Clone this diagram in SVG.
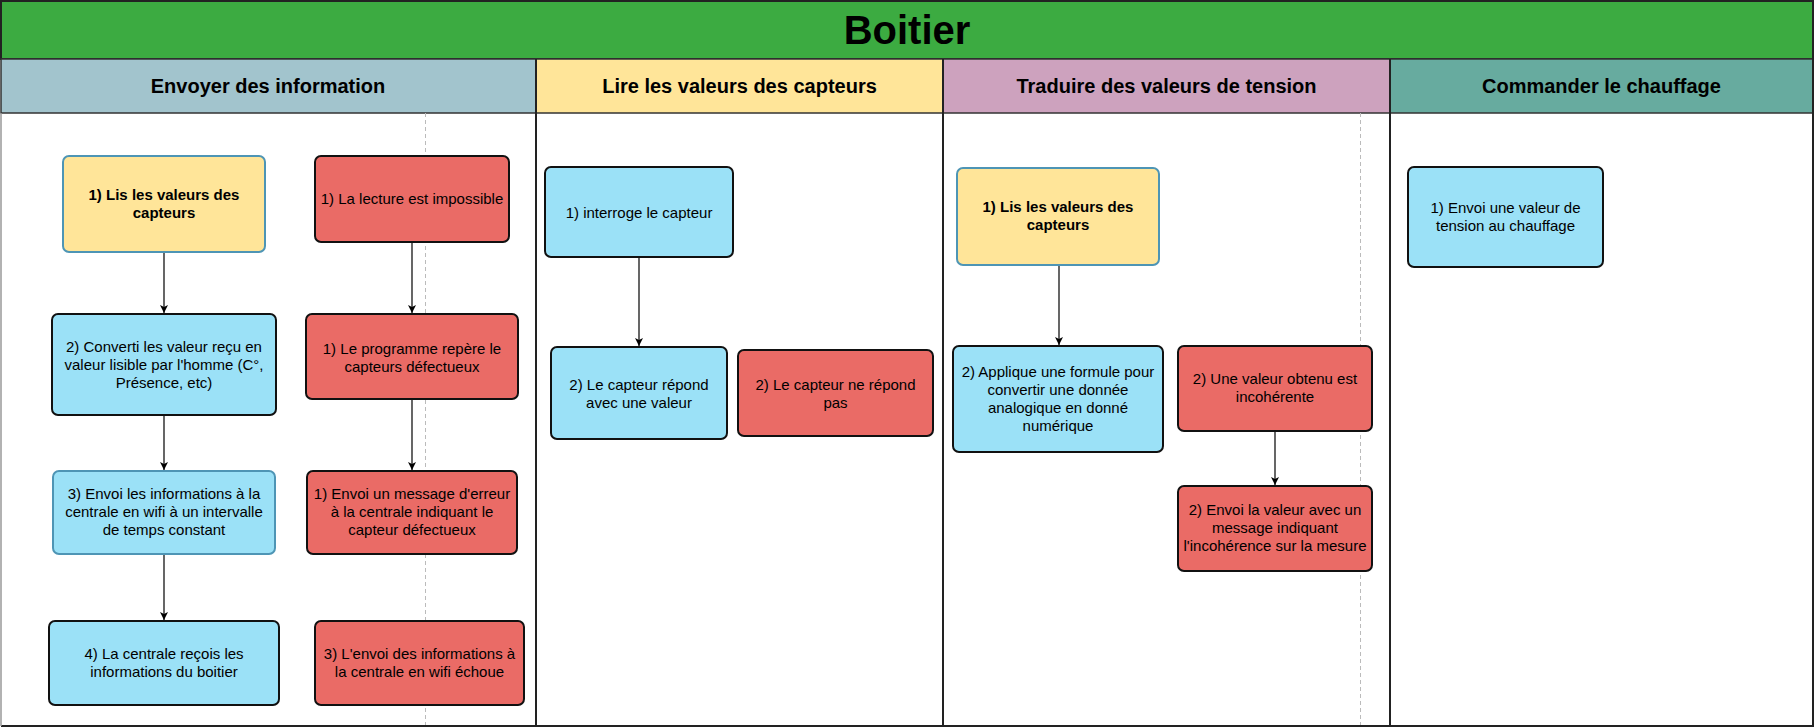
<svg xmlns="http://www.w3.org/2000/svg" width="1815" height="728" viewBox="0 0 1815 728">
<defs>
<marker id="arr" markerWidth="10" markerHeight="10" refX="8" refY="4" orient="auto" markerUnits="userSpaceOnUse">
<path d="M0,0 L8,4 L0,8 L2,4 Z" fill="#000"/>
</marker>
<style>
.lane-h{font-family:"Liberation Sans",Arial,sans-serif;font-size:20px;font-weight:bold;fill:#000;text-anchor:middle}
.t{font-family:"Liberation Sans",Arial,sans-serif;font-size:15px;fill:#000;text-anchor:middle}
.tb{font-family:"Liberation Sans",Arial,sans-serif;font-size:15px;font-weight:bold;fill:#000;text-anchor:middle}
.blue{fill:#9BE1F7;stroke:#111;stroke-width:2}
.blue2{fill:#9BE1F7;stroke:#4E95B5;stroke-width:2}
.red{fill:#EA6B66;stroke:#111;stroke-width:2}
.yel{fill:#FFE599;stroke:#4E95B5;stroke-width:2}
.conn{stroke:#000;stroke-width:1.2;fill:none;marker-end:url(#arr)}
.dash{stroke:#BBB;stroke-width:1;stroke-dasharray:4 3;fill:none}
</style>
</defs>
<g id="pool">
<rect x="0" y="0" width="1815" height="728" fill="#fff"/>
<rect x="1" y="1" width="1812" height="58" fill="#3CAB41" stroke="#222" stroke-width="2"/>
<text x="907" y="44" font-family="Liberation Sans, Arial, sans-serif" font-size="40" font-weight="bold" text-anchor="middle" fill="#000">Boitier</text>
</g>
<g id="lane1">
<rect x="1" y="59" width="535" height="54" fill="#A2C4CD" stroke="#333" stroke-width="1.5"/>
<text class="lane-h" x="268" y="93">Envoyer des information</text>
</g>
<g id="lane2">
<rect x="536" y="59" width="407" height="54" fill="#FFE599" stroke="#333" stroke-width="1.5"/>
<text class="lane-h" x="739.5" y="93">Lire les valeurs des capteurs</text>
</g>
<g id="lane3">
<rect x="943" y="59" width="447" height="54" fill="#CDA2BE" stroke="#333" stroke-width="1.5"/>
<text class="lane-h" x="1166.5" y="93">Traduire des valeurs de tension</text>
</g>
<g id="lane4">
<rect x="1390" y="59" width="423" height="54" fill="#67AB9F" stroke="#333" stroke-width="1.5"/>
<text class="lane-h" x="1601.5" y="93">Commander le chauffage</text>
</g>
<g id="lane-lines">
<line class="dash" x1="425.5" y1="113" x2="425.5" y2="726"/>
<line class="dash" x1="1360.5" y1="113" x2="1360.5" y2="726"/>
<line x1="536" y1="59" x2="536" y2="726" stroke="#222" stroke-width="2"/>
<line x1="943" y1="59" x2="943" y2="726" stroke="#222" stroke-width="2"/>
<line x1="1390" y1="59" x2="1390" y2="726" stroke="#222" stroke-width="2"/>
<path d="M1,1 H1813 V726 H1" fill="none" stroke="#222" stroke-width="2"/>
<line x1="1" y1="113" x2="1" y2="726" stroke="#999" stroke-width="1.5"/>
</g>
<g id="connectors">
<line class="conn" x1="164" y1="252" x2="164" y2="313"/>
<line class="conn" x1="164" y1="415" x2="164" y2="470"/>
<line class="conn" x1="164" y1="554" x2="164" y2="620"/>
<line class="conn" x1="412" y1="242" x2="412" y2="313"/>
<line class="conn" x1="412" y1="399" x2="412" y2="470"/>
<line class="conn" x1="639" y1="257" x2="639" y2="346"/>
<line class="conn" x1="1059" y1="265" x2="1059" y2="345"/>
<line class="conn" x1="1275" y1="431" x2="1275" y2="485"/>
</g>
<g id="nA">
<rect class="yel" x="63" y="156" width="202" height="96" rx="6"/>
<text class="tb"><tspan x="164" y="200">1) Lis les valeurs des</tspan><tspan x="164" y="218">capteurs</tspan></text>
</g>
<g id="nB">
<rect class="red" x="315" y="156" width="194" height="86" rx="6"/>
<text class="t"><tspan x="412" y="204">1) La lecture est impossible</tspan></text>
</g>
<g id="nC">
<rect class="blue" x="52" y="314" width="224" height="101" rx="6"/>
<text class="t"><tspan x="164" y="352">2) Converti les valeur reçu en</tspan><tspan x="164" y="370">valeur lisible par l'homme (C°,</tspan><tspan x="164" y="388">Présence, etc)</tspan></text>
</g>
<g id="nD">
<rect class="red" x="306" y="314" width="212" height="85" rx="6"/>
<text class="t"><tspan x="412" y="354">1) Le programme repère le</tspan><tspan x="412" y="372">capteurs défectueux</tspan></text>
</g>
<g id="nE">
<rect class="blue2" x="53" y="471" width="222" height="83" rx="6"/>
<text class="t"><tspan x="164" y="499">3) Envoi les informations à la</tspan><tspan x="164" y="517">centrale en wifi à un intervalle</tspan><tspan x="164" y="535">de temps constant</tspan></text>
</g>
<g id="nF">
<rect class="red" x="307" y="471" width="210" height="83" rx="6"/>
<text class="t"><tspan x="412" y="499">1) Envoi un message d'erreur</tspan><tspan x="412" y="517">à la centrale indiquant le</tspan><tspan x="412" y="535">capteur défectueux</tspan></text>
</g>
<g id="nG">
<rect class="blue" x="49" y="621" width="230" height="84" rx="6"/>
<text class="t"><tspan x="164" y="659">4) La centrale reçois les</tspan><tspan x="164" y="677">informations du boitier</tspan></text>
</g>
<g id="nH">
<rect class="red" x="315" y="621" width="209" height="84" rx="6"/>
<text class="t"><tspan x="419.5" y="659">3) L'envoi des informations à</tspan><tspan x="419.5" y="677">la centrale en wifi échoue</tspan></text>
</g>
<g id="nI">
<rect class="blue" x="545" y="167" width="188" height="90" rx="6"/>
<text class="t"><tspan x="639" y="218">1) interroge le capteur</tspan></text>
</g>
<g id="nJ">
<rect class="blue" x="551" y="347" width="176" height="92" rx="6"/>
<text class="t"><tspan x="639" y="390">2) Le capteur répond</tspan><tspan x="639" y="408">avec une valeur</tspan></text>
</g>
<g id="nK">
<rect class="red" x="738" y="350" width="195" height="86" rx="6"/>
<text class="t"><tspan x="835.5" y="390">2) Le capteur ne répond</tspan><tspan x="835.5" y="408">pas</tspan></text>
</g>
<g id="nL">
<rect class="yel" x="957" y="168" width="202" height="97" rx="6"/>
<text class="tb"><tspan x="1058" y="212">1) Lis les valeurs des</tspan><tspan x="1058" y="230">capteurs</tspan></text>
</g>
<g id="nM">
<rect class="blue" x="953" y="346" width="210" height="106" rx="6"/>
<text class="t"><tspan x="1058" y="377">2) Applique une formule pour</tspan><tspan x="1058" y="395">convertir une donnée</tspan><tspan x="1058" y="413">analogique en donné</tspan><tspan x="1058" y="431">numérique</tspan></text>
</g>
<g id="nN">
<rect class="red" x="1178" y="346" width="194" height="85" rx="6"/>
<text class="t"><tspan x="1275" y="384">2) Une valeur obtenu est</tspan><tspan x="1275" y="402">incohérente</tspan></text>
</g>
<g id="nO">
<rect class="red" x="1178" y="486" width="194" height="85" rx="6"/>
<text class="t"><tspan x="1275" y="515">2) Envoi la valeur avec un</tspan><tspan x="1275" y="533">message indiquant</tspan><tspan x="1275" y="551">l'incohérence sur la mesure</tspan></text>
</g>
<g id="nP">
<rect class="blue" x="1408" y="167" width="195" height="100" rx="6"/>
<text class="t"><tspan x="1505.5" y="213">1) Envoi une valeur de</tspan><tspan x="1505.5" y="231">tension au chauffage</tspan></text>
</g>
</svg>
